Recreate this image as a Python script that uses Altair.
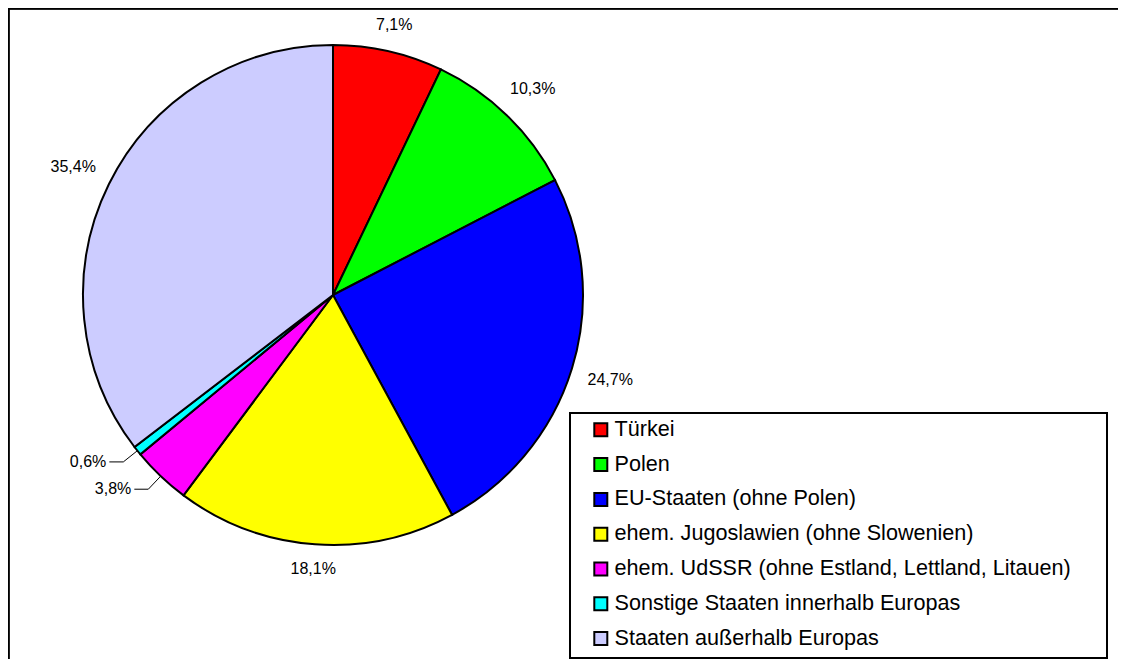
import altair as alt
import pandas as pd

categories = [
    "Türkei",
    "Polen",
    "EU-Staaten (ohne Polen)",
    "ehem. Jugoslawien (ohne Slowenien)",
    "ehem. UdSSR (ohne Estland, Lettland, Litauen)",
    "Sonstige Staaten innerhalb Europas",
    "Staaten außerhalb Europas",
]
values = [7.1, 10.3, 24.7, 18.1, 3.8, 0.6, 35.4]
colors = ["#FF0000", "#00FF00", "#0000FF", "#FFFF00", "#FF00FF", "#00FFFF", "#CCCCFF"]
labels = [f"{v:.1f}".replace(".", ",") + "%" for v in values]

df = pd.DataFrame({
    "cat": categories,
    "value": values,
    "label": labels,
    "idx": list(range(len(values))),
})

W, H = 1110, 651
CX, CY, R = 325, 287, 250
FONT = "Liberation Sans"

color = alt.Color(
    "cat:N",
    sort=categories,
    scale=alt.Scale(domain=categories, range=colors),
    legend=alt.Legend(
        title=None,
        orient="none",
        legendX=582,
        legendY=411,
        padding=0,
        symbolType="square",
        symbolSize=169,
        symbolStrokeColor="black",
        symbolStrokeWidth=2,
        labelFont=FONT,
        labelFontSize=21.6,
        labelColor="black",
        labelOffset=3,
        labelLimit=800,
        rowPadding=11.8,
    ),
)

theta = alt.Theta("value:Q", stack=True)
order = alt.Order("idx:Q")

frame = alt.Chart(df).mark_rule(color="black", strokeWidth=2.5).encode(
    x=alt.value(0), y=alt.value(0), x2=alt.value(W)
) + alt.Chart(df).mark_rule(color="black", strokeWidth=2.5).encode(
    x=alt.value(0), y=alt.value(0), y2=alt.value(H)
)

box = alt.Chart(df).mark_rect(fill="white", stroke="black", strokeWidth=2).encode(
    x=alt.value(562), x2=alt.value(1099), y=alt.value(405), y2=alt.value(H - 1)
)

arcs = alt.Chart(df).mark_arc(outerRadius=R, stroke="black", strokeWidth=2).encode(
    theta=theta, order=order, color=color,
    x=alt.value(CX), y=alt.value(CY),
)

big = alt.Chart(df).transform_filter("datum.value >= 5")
main_text = big.mark_text(font=FONT, fontSize=16, color="black", baseline="middle").encode(
    x=alt.X("tx:Q", scale=None), y=alt.Y("ty:Q", scale=None),
    text="label:N",
)

small = alt.Chart(df).transform_filter("datum.value < 5")

lead1 = small.mark_rule(color="black", strokeWidth=1).encode(
    x=alt.X("px:Q", scale=None), y=alt.Y("py:Q", scale=None),
    x2="ex:Q", y2="ey:Q",
)
lead2 = small.mark_rule(color="black", strokeWidth=1).encode(
    x=alt.X("ex:Q", scale=None), y=alt.Y("ey:Q", scale=None),
    x2="hx:Q", y2="ey:Q",
)
small_text = small.mark_text(font=FONT, fontSize=16, color="black", align="right", baseline="middle").encode(
    x=alt.X("lx:Q", scale=None), y=alt.Y("ey:Q", scale=None),
    text="label:N",
)

chart = alt.layer(frame, arcs, main_text, lead1, lead2, small_text, box).transform_joinaggregate(
    total="sum(value)"
).transform_window(
    cum="sum(value)", sort=[alt.SortField("idx")], frame=[None, 0]
).transform_calculate(
    mid="(datum.cum - datum.value / 2) / datum.total * 2 * PI",
).transform_calculate(
    lr=f"{R} + 16 + 4.6 * length(datum.label) * abs(sin(datum.mid)) + 7 * abs(cos(datum.mid))",
    px=f"{CX} + {R} * sin(datum.mid)",
    py=f"{CY} - {R} * cos(datum.mid)",
    ex=f"{CX} + {R + 18} * sin(datum.mid)",
    ey=f"{CY} - {R + 18} * cos(datum.mid)",
).transform_calculate(
    tx=f"{CX} + datum.lr * sin(datum.mid)",
    ty=f"{CY} - datum.lr * cos(datum.mid)",
    hx="datum.ex - 14",
    lx="datum.ex - 17",
).properties(
    width=W, height=H, padding=0,
    autosize=alt.AutoSizeParams(type="none"),
    background="white",
).configure_view(stroke=None)

chart.save("out.html", embed_options={"renderer": "svg", "actions": False})
